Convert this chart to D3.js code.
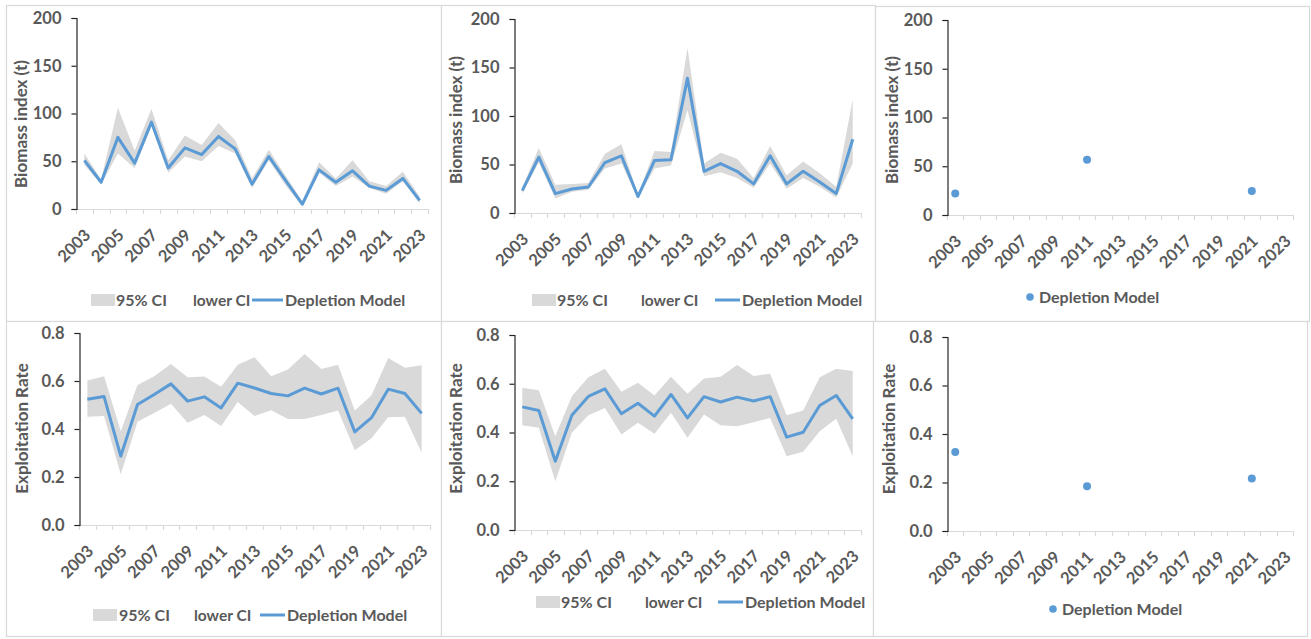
<!DOCTYPE html>
<html><head><meta charset="utf-8">
<script src="https://cdn.jsdelivr.net/npm/d3@7"></script>
<style>
body{margin:0;background:#fff}
svg{display:block}
text{font-family:Lato,'Open Sans',sans-serif;font-weight:700;fill:#595959}
</style>
</head><body>
<svg id="c" width="1311" height="639"></svg>
<script>
// ---------- DATA ----------
const years = [2003,2004,2005,2006,2007,2008,2009,2010,2011,2012,2013,2014,2015,2016,2017,2018,2019,2020,2021,2022,2023];
const yearTickLabels = [2003,2005,2007,2009,2011,2013,2015,2017,2019,2021,2023];
const biomassTicks = [0,50,100,150,200];
const rateTicks = [0,0.2,0.4,0.6,0.8];
const legendLabels = ["95% CI","lower CI","Depletion Model"];

// Panel A (top-left) biomass
const biomassA    = [51,28,75,48,91,43,64,57,76,63,26,55,30,5,41,28,40,24,19.5,32,9];
const biomassA_lo = [46,26,58,43,87,38,55,50,66,58,22,51,25,3,38,24,34,22,16,29,6];
const biomassA_hi = [58,31,106,61,105,51,77,67,90,72,32,62,35,8,49,32,51,29,24,39,13];
// Panel B (top-middle) biomass
const biomassB    = [23,57.6,20,24.7,26.8,52,59,17,54,55,139,43,51,43,30,59,30,43,32,20,76];
const biomassB_lo = [20,52,15,22,24,46,51,15,46,49,106,38,42,36,26,51,25,36,27,16,51];
const biomassB_hi = [26,67,29,30,31,61,71,19,64,63,170,51,62,56,36,69,39,53,41,27,117];
// Panel C (top-right) biomass points
const biomassC_years = [2003,2011,2021];
const biomassC       = [22,56.7,24.6];
// Panel D (bottom-left) exploitation rate
const rateD    = [0.524,0.535,0.287,0.502,0.544,0.588,0.516,0.534,0.488,0.591,0.571,0.548,0.538,0.57,0.546,0.57,0.388,0.447,0.566,0.548,0.465];
const rateD_lo = [0.451,0.454,0.211,0.43,0.467,0.505,0.426,0.458,0.412,0.513,0.454,0.478,0.442,0.442,0.458,0.477,0.311,0.361,0.449,0.451,0.301];
const rateD_hi = [0.602,0.62,0.391,0.583,0.62,0.671,0.616,0.619,0.576,0.668,0.699,0.62,0.648,0.713,0.65,0.668,0.477,0.541,0.696,0.655,0.666];
// Panel E (bottom-middle) exploitation rate
const rateE    = [0.505,0.49,0.282,0.471,0.548,0.579,0.477,0.52,0.467,0.556,0.46,0.547,0.525,0.545,0.529,0.547,0.381,0.401,0.511,0.552,0.456];
const rateE_lo = [0.43,0.419,0.2,0.399,0.471,0.501,0.392,0.44,0.395,0.481,0.378,0.474,0.43,0.426,0.442,0.46,0.303,0.321,0.405,0.456,0.303];
const rateE_hi = [0.584,0.573,0.385,0.549,0.627,0.662,0.567,0.604,0.552,0.629,0.559,0.622,0.629,0.677,0.632,0.641,0.471,0.49,0.627,0.662,0.652];
// Panel F (bottom-right) exploitation rate points
const rateF_years = [2003,2011,2021];
const rateF       = [0.326,0.185,0.216];

// ---------- LAYOUT ----------
const BLUE = "#5b9bd5", BAND = "#d9d9d9", GRID = "#d9d9d9", BORDER = "#d9d9d9";
const panels = [
  {box:[6,5,441,321], px:[76,428], py:[18,209], yMax:200, ticks:biomassTicks, fmt:d3.format("d"),
   title:"Biomass index (t)", tc:[21,124], kind:"band", val:biomassA, lo:biomassA_lo, hi:biomassA_hi,
   leg:{y:300, rect:91, ci:116, lower:196, l0:252, l1:283, dm:285}},
  {box:[441,5,875,321], px:[514,861], py:[19,213], yMax:200, ticks:biomassTicks, fmt:d3.format("d"),
   title:"Biomass index (t)", tc:[456,120], kind:"band", val:biomassB, lo:biomassB_lo, hi:biomassB_hi,
   leg:{y:300, rect:532, ci:557, lower:644, l0:715, l1:740, dm:742}},
  {box:[875,6,1309,321], px:[947,1293], py:[20,215], yMax:200, ticks:biomassTicks, fmt:d3.format("d"),
   title:"Biomass index (t)", tc:[892,120], kind:"dots", px_years:biomassC_years, val:biomassC,
   leg:{y:297, dot:1030, dm:1039}},
  {box:[6,321,441,636], px:[79,430], py:[333,525], yMax:0.8, ticks:rateTicks, fmt:d3.format(".1f"),
   title:"Exploitation Rate", tc:[22.5,428.5], kind:"band", val:rateD, lo:rateD_lo, hi:rateD_hi,
   leg:{y:615, rect:93, ci:119, lower:197, l0:260, l1:285, dm:287}},
  {box:[441,321,873,636], px:[514,861], py:[335,530], yMax:0.8, ticks:rateTicks, fmt:d3.format(".1f"),
   title:"Exploitation Rate", tc:[456,428.5], kind:"band", val:rateE, lo:rateE_lo, hi:rateE_hi,
   leg:{y:602, rect:536, ci:561, lower:648, l0:718, l1:743, dm:745}},
  {box:[873,321,1307,636], px:[947,1293], py:[337,531], yMax:0.8, ticks:rateTicks, fmt:d3.format(".1f"),
   title:"Exploitation Rate", tc:[889,429], kind:"dots", px_years:rateF_years, val:rateF,
   leg:{y:609, dot:1053, dm:1062}}
];

const svg = d3.select("#c");
svg.append("rect").attr("width",1311).attr("height",639).attr("fill","#fff");

panels.forEach(p => {
  const g = svg.append("g");
  const [bx0,by0,bx1,by1] = p.box;
  g.append("rect").attr("x",bx0+0.5).attr("y",by0+0.5).attr("width",bx1-bx0).attr("height",by1-by0)
    .attr("fill","#fff").attr("stroke",BORDER).attr("stroke-width",1.2);

  const x = d3.scaleBand().domain(years).range(p.px).padding(0);
  const y = d3.scaleLinear().domain([0,p.yMax]).range([p.py[1],p.py[0]]);
  const cx = d => x(d) + x.bandwidth()/2;

  // CI band
  if (p.kind === "band") {
    const area = d3.area().x((d,i)=>cx(years[i])).y0((d,i)=>y(p.lo[i])).y1((d,i)=>y(p.hi[i]));
    g.append("path").datum(p.val).attr("d",area).attr("fill",BAND);
  }

  // x axis line and ticks (at category boundaries)
  g.append("line").attr("x1",p.px[0]).attr("x2",p.px[1]).attr("y1",p.py[1]+0.5).attr("y2",p.py[1]+0.5)
    .attr("stroke",GRID).attr("stroke-width",1.2);
  const bounds = years.map(d=>x(d)).concat([p.px[1]]);
  g.selectAll(".xt").data(bounds).join("line")
    .attr("x1",d=>Math.round(d)+0.5).attr("x2",d=>Math.round(d)+0.5)
    .attr("y1",p.py[1]).attr("y2",p.py[1]+5).attr("stroke",GRID).attr("stroke-width",1.2);
  g.selectAll(".xl").data(yearTickLabels).join("text")
    .attr("transform",d=>`translate(${cx(d)-1},${p.py[1]+19}) rotate(-45)`)
    .attr("text-anchor","end").attr("dy","0.7em").attr("font-size",16.5).text(d=>d);

  // y axis
  const yAxis = d3.axisLeft(y).tickValues(p.ticks).tickFormat(p.fmt).tickSize(5).tickPadding(10);
  const ya = g.append("g").attr("transform",`translate(${p.px[0]+0.5},0)`).call(yAxis);
  ya.select(".domain").attr("stroke","#262626").attr("stroke-width",1.2);
  ya.selectAll(".tick line").attr("stroke","#262626").attr("stroke-width",1.2);
  ya.selectAll(".tick text").attr("font-size",16.5).attr("fill","#595959")
    .style("font-family","Lato,'Open Sans',sans-serif").style("font-weight",700);
  ya.attr("font-family",null).attr("font-size",null);

  // y title
  g.append("text").attr("transform",`translate(${p.tc[0]},${p.tc[1]}) rotate(-90)`)
    .attr("text-anchor","middle").attr("dy","0.35em").attr("font-size",17).text(p.title);

  const L = p.leg;
  if (p.kind === "band") {
    const line = d3.line().x((d,i)=>cx(years[i])).y(d=>y(d));
    g.append("path").datum(p.val).attr("d",line).attr("fill","none")
      .attr("stroke",BLUE).attr("stroke-width",3).attr("stroke-linejoin","round");
    // legend
    g.append("rect").attr("x",L.rect).attr("y",L.y-6).attr("width",24).attr("height",12).attr("fill",BAND);
    g.append("text").attr("x",L.ci).attr("y",L.y).attr("dy","0.36em").attr("font-size",16).text(legendLabels[0]);
    g.append("text").attr("x",L.lower-3).attr("y",L.y).attr("dy","0.36em").attr("font-size",15.5).text(legendLabels[1]);
    g.append("line").attr("x1",L.l0).attr("x2",L.l1).attr("y1",L.y).attr("y2",L.y)
      .attr("stroke",BLUE).attr("stroke-width",3);
    g.append("text").attr("x",L.dm).attr("y",L.y).attr("dy","0.36em").attr("font-size",16).text(legendLabels[2]);
  } else {
    g.selectAll(".pt").data(p.val).join("circle")
      .attr("cx",(d,i)=>cx(p.px_years[i])).attr("cy",d=>y(d)).attr("r",4).attr("fill",BLUE);
    g.append("circle").attr("cx",L.dot).attr("cy",L.y).attr("r",3.8).attr("fill",BLUE);
    g.append("text").attr("x",L.dm).attr("y",L.y).attr("dy","0.36em").attr("font-size",16).text(legendLabels[2]);
  }
});
</script>
</body></html>
